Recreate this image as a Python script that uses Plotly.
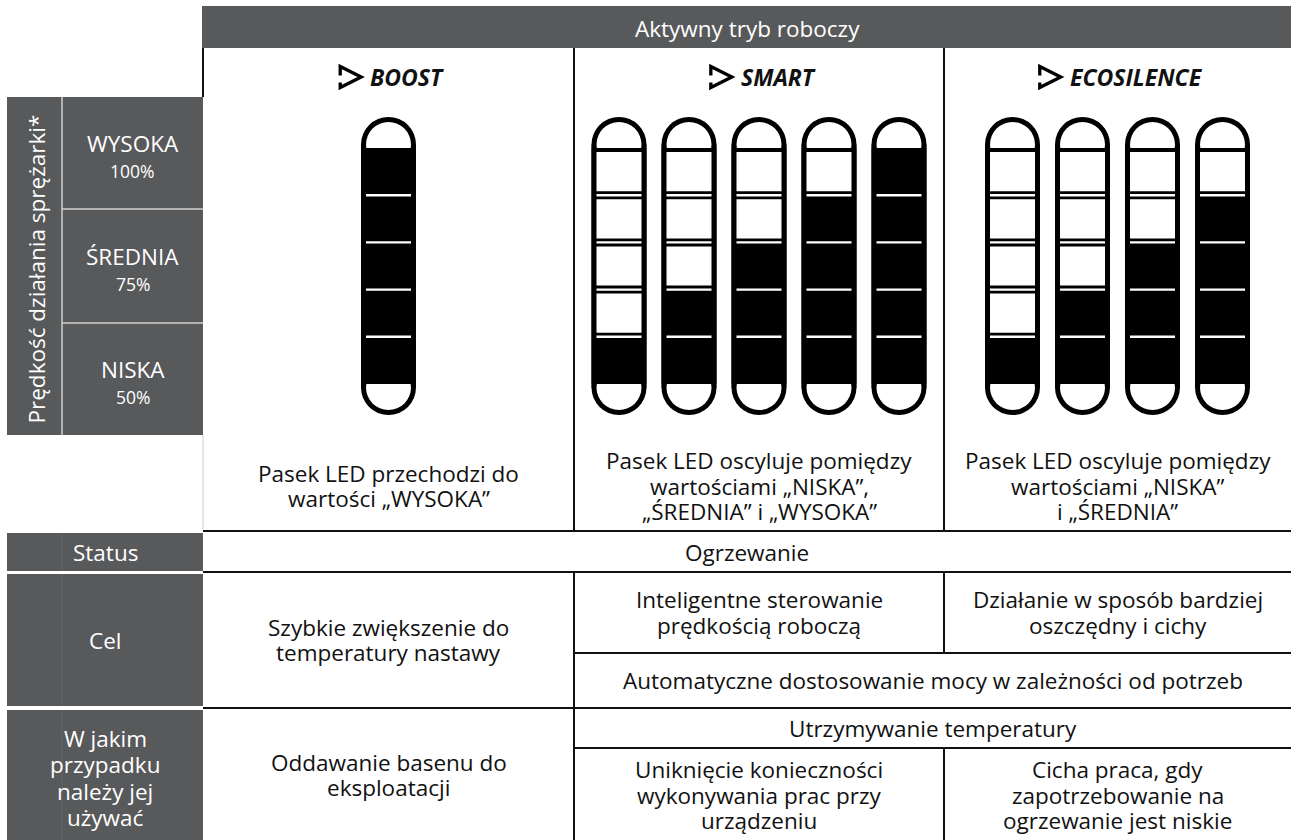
import plotly.graph_objects as go

# ---------------- data ----------------
header_title = "Aktywny tryb roboczy"
modes = ["BOOST", "SMART", "ECOSILENCE"]
boost_levels = [5]
smart_levels = [1, 2, 3, 4, 5]
eco_levels = [1, 2, 3, 4]
segments_per_bar = 5
speed_axis_title = "Prędkość działania sprężarki*"
speed_labels = ["WYSOKA", "ŚREDNIA", "NISKA"]
speed_percents = ["100%", "75%", "50%"]
led_descriptions = [
    "Pasek LED przechodzi do<br>wartości „WYSOKA”",
    "Pasek LED oscyluje pomiędzy<br>wartościami „NISKA”,<br>„ŚREDNIA” i „WYSOKA”",
    "Pasek LED oscyluje pomiędzy<br>wartościami „NISKA”<br>i „ŚREDNIA”",
]
row_labels = ["Status", "Cel", "W jakim<br>przypadku<br>należy jej<br>używać"]
status_text = "Ogrzewanie"
goal_boost = "Szybkie zwiększenie do<br>temperatury nastawy"
goal_smart = "Inteligentne sterowanie<br>prędkością roboczą"
goal_eco = "Działanie w sposób bardziej<br>oszczędny i cichy"
goal_shared = "Automatyczne dostosowanie mocy w zależności od potrzeb"
use_boost = "Oddawanie basenu do<br>eksploatacji"
use_shared = "Utrzymywanie temperatury"
use_smart = "Uniknięcie konieczności<br>wykonywania prac przy<br>urządzeniu"
use_eco = "Cicha praca, gdy<br>zapotrzebowanie na<br>ogrzewanie jest niskie"

# ---------------- layout / style ----------------
W, H = 1291, 840
DARK = "#58595b"
LIGHT = "#cfcfcf"
INK = "#111111"
FONT = "Open Sans"
FS = 22.5
MODE_FS = 23
LH = 25.5

LEFT_X0, LEFT_SPLIT = 7, 62
COLS = [203, 574, 944, 1291]
Y_HEAD = (6, 48)
Y_MODE = 48
Y_LED_TOP = 97
Y_LEFT_BOTTOM = 435
Y_DESC_BOTTOM = 531
Y_STATUS_BOTTOM = 572
Y_GOAL_SPLIT = 653
Y_GOAL_BOTTOM = 708
Y_USE_SPLIT = 748

BAR_TOP, BAR_BOTTOM = 117, 415
BAR_W, BAR_T, BAR_GAP = 55, 5, 70
SEG_TOP, SEG_BOTTOM = 148, 384

# approx. glyph widths (em) of bold-italic capitals, used to centre icon+label
CAP_W = dict(B=.66, O=.77, S=.56, T=.57, M=.88, A=.66, R=.65, E=.56, C=.63, I=.32, L=.52, N=.78)

shapes = []
annots = []


def rect(x0, y0, x1, y1, color):
    shapes.append(dict(type="rect", xref="x", yref="y", x0=x0, x1=x1, y0=y0, y1=y1,
                       fillcolor=color, line=dict(width=0), layer="above"))


def circ(x0, y0, x1, y1, color):
    shapes.append(dict(type="circle", xref="x", yref="y", x0=x0, x1=x1, y0=y0, y1=y1,
                       fillcolor=color, line=dict(width=0), layer="above"))


def line(x0, y0, x1, y1, color=INK, width=2):
    shapes.append(dict(type="line", xref="x", yref="y", x0=x0, x1=x1, y0=y0, y1=y1,
                       line=dict(color=color, width=width), layer="above"))


def text(x, y, s, size=FS, color=INK, angle=0, anchor="center"):
    annots.append(dict(x=x, y=y, xref="x", yref="y", text=s, showarrow=False,
                       xanchor=anchor, yanchor="middle", textangle=angle,
                       font=dict(family=FONT, size=size, color=color)))


def text_lines(x, yc, s, size=FS, color=INK, lh=LH):
    parts = s.split("<br>")
    n = len(parts)
    for i, p in enumerate(parts):
        text(x, yc + (i - (n - 1) / 2) * lh, p, size=size, color=color)


def led_bar(cx, lit):
    R = BAR_W / 2
    t = BAR_T
    circ(cx - R, BAR_TOP, cx + R, BAR_TOP + 2 * R, "black")
    circ(cx - R, BAR_BOTTOM - 2 * R, cx + R, BAR_BOTTOM, "black")
    rect(cx - R, BAR_TOP + R, cx + R, BAR_BOTTOM - R, "black")
    circ(cx - R + t, BAR_TOP + t, cx + R - t, BAR_TOP + 2 * R - t, "white")
    circ(cx - R + t, BAR_BOTTOM - 2 * R + t, cx + R - t, BAR_BOTTOM - t, "white")
    rect(cx - R, SEG_TOP, cx + R, SEG_BOTTOM, "black")
    h = (SEG_BOTTOM - SEG_TOP) / segments_per_bar
    for i in range(segments_per_bar):
        yb = SEG_BOTTOM - i * h
        yt = yb - h
        if i >= lit:
            rect(cx - R + t, yt + 4, cx + R - t, yb - 4, "white")
    for i in range(1, segments_per_bar):
        ye = SEG_BOTTOM - i * h
        rect(cx - R + t, ye - 1.2, cx + R - t, ye + 1.2, "white")


def mode_header(cx, name):
    tw = sum(CAP_W.get(ch, .6) for ch in name) * MODE_FS
    group = 24 + 6 + tw
    x0 = cx + 3 - group / 2
    yc = 77
    # play icon (outline triangle with small gap on the left side)
    shapes.append(dict(type="path", xref="x", yref="y",
                       path=f"M {x0+2},{yc-1.5} L {x0+2},{yc-10.5} L {x0+23},{yc} L {x0+2},{yc+10.5} L {x0+2},{yc+5.5}",
                       line=dict(color="black", width=3.3), layer="above"))
    text(x0 + 30, yc, "<b><i>" + name + "</i></b>", size=MODE_FS, anchor="left")


# ---- header ----
rect(COLS[0] - 1, Y_HEAD[0], W, Y_HEAD[1], DARK)
text((COLS[0] + W) / 2, (Y_HEAD[0] + Y_HEAD[1]) / 2 + 1, header_title, size=FS, color="white")

# ---- left speed block ----
rect(LEFT_X0, Y_LED_TOP, COLS[0], Y_LEFT_BOTTOM, DARK)
line(LEFT_SPLIT, Y_LED_TOP, LEFT_SPLIT, Y_LEFT_BOTTOM, LIGHT, 1.5)
speed_edges = [Y_LED_TOP, 209, 323, Y_LEFT_BOTTOM]
for k in (1, 2):
    line(LEFT_SPLIT, speed_edges[k], COLS[0], speed_edges[k], LIGHT, 1.5)
for k, (lab, pct) in enumerate(zip(speed_labels, speed_percents)):
    cy = (speed_edges[k] + speed_edges[k + 1]) / 2
    cxl = (LEFT_SPLIT + COLS[0]) / 2
    text(cxl, cy - 9.5, lab, size=FS, color="white")
    text(cxl, cy + 18, pct, size=17.5, color="white")
text((LEFT_X0 + LEFT_SPLIT) / 2 + 1, 269, speed_axis_title,
     size=FS, color="white", angle=-90)

# ---- left row labels ----
label_rows = [(Y_DESC_BOTTOM + 2, Y_STATUS_BOTTOM - 1), (Y_STATUS_BOTTOM + 2, Y_GOAL_BOTTOM - 2),
              (Y_GOAL_BOTTOM + 2, H)]
label_centres = [552, 640, 778]
for (y0, y1), lab, yc in zip(label_rows, row_labels, label_centres):
    rect(LEFT_X0, y0, COLS[0], y1, DARK)
    line(LEFT_SPLIT, y0, LEFT_SPLIT, y1, "#636466", 1)
    text_lines((LEFT_X0 + COLS[0]) / 2, yc, lab, size=FS, color="white", lh=26.5)

# ---- mode headers ----
for k, m in enumerate(modes):
    mode_header((COLS[k] + COLS[k + 1]) / 2, m)

# ---- LED bars ----
for k, levels in enumerate([boost_levels, smart_levels, eco_levels]):
    cx = (COLS[k] + COLS[k + 1]) / 2
    n = len(levels)
    for j, lit in enumerate(levels):
        led_bar(cx + (j - (n - 1) / 2) * BAR_GAP, lit)

# ---- LED descriptions ----
for k, d in enumerate(led_descriptions):
    cx = (COLS[k] + COLS[k + 1]) / 2
    text_lines(cx, 486, d)

# ---- grid lines ----
line(COLS[0], Y_MODE, COLS[0], Y_LED_TOP)
line(COLS[0], Y_LEFT_BOTTOM, COLS[0], Y_DESC_BOTTOM, LIGHT, 1)
for x in (COLS[1], COLS[2]):
    line(x, Y_MODE, x, Y_DESC_BOTTOM)
line(COLS[0], Y_DESC_BOTTOM, W, Y_DESC_BOTTOM)
line(COLS[0], Y_STATUS_BOTTOM, W, Y_STATUS_BOTTOM)
line(COLS[1], Y_STATUS_BOTTOM, COLS[1], H)
line(COLS[2], Y_STATUS_BOTTOM, COLS[2], Y_GOAL_SPLIT)
line(COLS[1], Y_GOAL_SPLIT, W, Y_GOAL_SPLIT)
line(COLS[0], Y_GOAL_BOTTOM, W, Y_GOAL_BOTTOM)
line(COLS[1], Y_USE_SPLIT, W, Y_USE_SPLIT)
line(COLS[2], Y_USE_SPLIT, COLS[2], H)

# ---- body texts ----
text_lines((COLS[0] + W) / 2, (Y_DESC_BOTTOM + Y_STATUS_BOTTOM) / 2 + 1, status_text)
text_lines((COLS[0] + COLS[1]) / 2, (Y_STATUS_BOTTOM + Y_GOAL_BOTTOM) / 2, goal_boost)
text_lines((COLS[1] + COLS[2]) / 2, (Y_STATUS_BOTTOM + Y_GOAL_SPLIT) / 2, goal_smart)
text_lines((COLS[2] + W) / 2, (Y_STATUS_BOTTOM + Y_GOAL_SPLIT) / 2, goal_eco)
text_lines((COLS[1] + W) / 2, (Y_GOAL_SPLIT + Y_GOAL_BOTTOM) / 2, goal_shared)
text_lines((COLS[0] + COLS[1]) / 2, (Y_GOAL_BOTTOM + H) / 2 + 1, use_boost)
text_lines((COLS[1] + W) / 2, (Y_GOAL_BOTTOM + Y_USE_SPLIT) / 2, use_shared)
text_lines((COLS[1] + COLS[2]) / 2, (Y_USE_SPLIT + H) / 2 + 1, use_smart)
text_lines((COLS[2] + W) / 2, (Y_USE_SPLIT + H) / 2 + 1, use_eco)

fig = go.Figure(go.Scatter(x=[], y=[], hoverinfo="skip", showlegend=False))
fig.update_layout(
    width=W, height=H,
    margin=dict(l=0, r=0, t=0, b=0),
    paper_bgcolor="white", plot_bgcolor="white",
    xaxis=dict(range=[0, W], visible=False, fixedrange=True),
    yaxis=dict(range=[H, 0], visible=False, fixedrange=True),
    shapes=shapes, annotations=annots, showlegend=False,
)
fig.write_html("out.html", config={"displayModeBar": False},
               post_script="document.body.style.margin='0px';document.body.style.overflow='hidden';")
